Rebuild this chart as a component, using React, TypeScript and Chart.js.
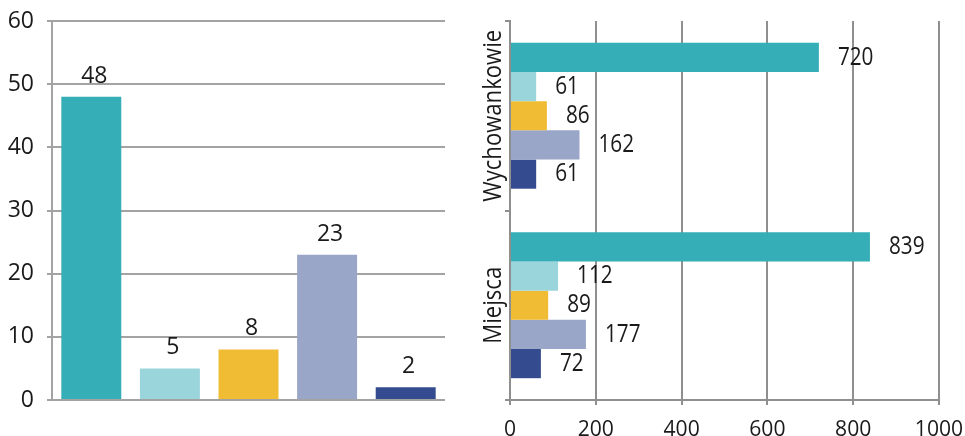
import React, { useEffect, useRef } from 'react';
import { Chart, registerables } from 'chart.js';

Chart.register(...registerables);

// ---- data ----
const leftCategories = ['', '', '', '', ''];
const leftValues = [48, 5, 8, 23, 2];
const seriesColors = ['#35aeb8', '#9bd5dc', '#f0bc34', '#99a6c8', '#344b8f'];

const rightCategories = ['Wychowankowie', 'Miejsca'];
const seriesA = [720, 839];
const seriesB = [61, 112];
const seriesC = [86, 89];
const seriesD = [162, 177];
const seriesE = [61, 72];
const rightSeries = [seriesA, seriesB, seriesC, seriesD, seriesE];

const FONT = "'Open Sans', 'Noto Sans', sans-serif";
const TEXT = '#1a1a1a';

function drawScaledText(ctx: any, text: string, x: number, y: number, sx: number, align: string, baseline: string) {
  ctx.save();
  ctx.translate(x, y);
  ctx.scale(sx, 1);
  ctx.textAlign = align;
  ctx.textBaseline = baseline;
  ctx.fillText(text, 0, 0);
  ctx.restore();
}

const leftLabelsPlugin = {
  id: 'leftLabels',
  afterDatasetsDraw(chart: any) {
    const ctx = chart.ctx;
    const meta = chart.getDatasetMeta(0);
    ctx.save();
    ctx.font = `23px ${FONT}`;
    ctx.fillStyle = TEXT;
    ctx.textAlign = 'center';
    ctx.textBaseline = 'alphabetic';
    meta.data.forEach((el: any, i: number) => {
      ctx.fillText(String(leftValues[i]), el.x + 3, el.y - 14);
    });
    ctx.restore();
  },
};

const rightLabelsPlugin = {
  id: 'rightLabels',
  afterDatasetsDraw(chart: any) {
    const ctx = chart.ctx;
    ctx.save();
    ctx.fillStyle = TEXT;
    ctx.font = `25px ${FONT}`;
    // value labels
    chart.data.datasets.forEach((ds: any, di: number) => {
      const meta = chart.getDatasetMeta(di);
      meta.data.forEach((el: any, i: number) => {
        drawScaledText(ctx, String(ds.data[i]), el.x + 19, el.y, 0.83, 'left', 'middle');
      });
    });
    // x tick labels
    const xScale = chart.scales.x;
    ctx.font = `22px ${FONT}`;
    xScale.ticks.forEach((t: any) => {
      const x = xScale.getPixelForValue(t.value);
      drawScaledText(ctx, String(t.value), x, 435.5, 0.96, 'center', 'alphabetic');
    });
    // category labels, rotated
    const yScale = chart.scales.y;
    ctx.font = `26px ${FONT}`;
    rightCategories.forEach((c, i) => {
      const y = yScale.getPixelForTick(i);
      ctx.save();
      ctx.translate(chart.chartArea.left - 9, y);
      ctx.rotate(-Math.PI / 2);
      ctx.scale(0.85, 1);
      ctx.textAlign = 'center';
      ctx.textBaseline = 'alphabetic';
      ctx.fillText(c, 0, 0);
      ctx.restore();
    });
    ctx.restore();
  },
};

function LeftChart() {
  const ref = useRef<HTMLCanvasElement>(null);
  useEffect(() => {
    const chart = new Chart(ref.current as HTMLCanvasElement, {
      type: 'bar',
      data: {
        labels: leftCategories,
        datasets: [
          {
            data: leftValues,
            backgroundColor: seriesColors,
            borderWidth: 0,
            categoryPercentage: 1,
            barPercentage: 0.763,
          },
        ],
      },
      options: {
        responsive: false,
        animation: false,
        events: [],
        layout: { padding: { top: 21, right: 25, left: 0, bottom: 0 } },
        plugins: { legend: { display: false }, tooltip: { enabled: false } },
        scales: {
          x: {
            grid: { display: false },
            border: { display: false },
            ticks: { display: false },
            afterFit: (s: any) => {
              s.height = 36;
              s.paddingLeft = 0;
              s.paddingRight = 0;
            },
          },
          y: {
            min: 0,
            max: 60,
            ticks: {
              stepSize: 10,
              color: TEXT,
              font: { family: FONT, size: 23 },
              padding: 13,
            },
            grid: { color: '#a3a3a3', lineWidth: 2, tickLength: 5, drawTicks: true },
            border: { display: true, color: '#a3a3a3', width: 2 },
            afterFit: (s: any) => {
              s.width = 52;
              s.paddingTop = 0;
              s.paddingBottom = 0;
            },
          },
        },
      },
      plugins: [leftLabelsPlugin],
    } as any);
    return () => chart.destroy();
  }, []);
  return <canvas ref={ref} width={470} height={436} style={{ width: 470, height: 436 }} />;
}

function RightChart() {
  const ref = useRef<HTMLCanvasElement>(null);
  useEffect(() => {
    const chart = new Chart(ref.current as HTMLCanvasElement, {
      type: 'bar',
      data: {
        labels: rightCategories,
        datasets: rightSeries.map((d, i) => ({
          data: d,
          backgroundColor: seriesColors[i],
          borderWidth: 0,
          categoryPercentage: 0.77,
          barPercentage: 1,
        })),
      },
      options: {
        indexAxis: 'y',
        responsive: false,
        animation: false,
        events: [],
        layout: { padding: { top: 21, right: 26, left: 0, bottom: 0 } },
        plugins: { legend: { display: false }, tooltip: { enabled: false } },
        scales: {
          x: {
            min: 0,
            max: 1000,
            ticks: { stepSize: 200, display: false },
            grid: { color: '#8f8f8f', lineWidth: 2, tickLength: 5, drawTicks: true },
            border: { display: true, color: '#8f8f8f', width: 2 },
            afterFit: (s: any) => {
              s.height = 36;
              s.paddingLeft = 0;
              s.paddingRight = 0;
            },
          },
          y: {
            ticks: { display: false },
            grid: { drawOnChartArea: false, drawTicks: true, tickLength: 5, color: '#8f8f8f', lineWidth: 2 },
            border: { display: true, color: '#8f8f8f', width: 2 },
            afterFit: (s: any) => {
              s.width = 40;
              s.paddingTop = 0;
              s.paddingBottom = 0;
            },
          },
        },
      },
      plugins: [rightLabelsPlugin],
    } as any);
    return () => chart.destroy();
  }, []);
  return <canvas ref={ref} width={495} height={436} style={{ width: 495, height: 436 }} />;
}

export default function App() {
  return (
    <div style={{ position: 'fixed', left: 0, top: 0, width: 965, height: 436, background: '#fff', overflow: 'hidden' }}>
      <div style={{ position: 'absolute', left: 0, top: 0 }}>
        <LeftChart />
      </div>
      <div style={{ position: 'absolute', left: 470, top: 0 }}>
        <RightChart />
      </div>
    </div>
  );
}
